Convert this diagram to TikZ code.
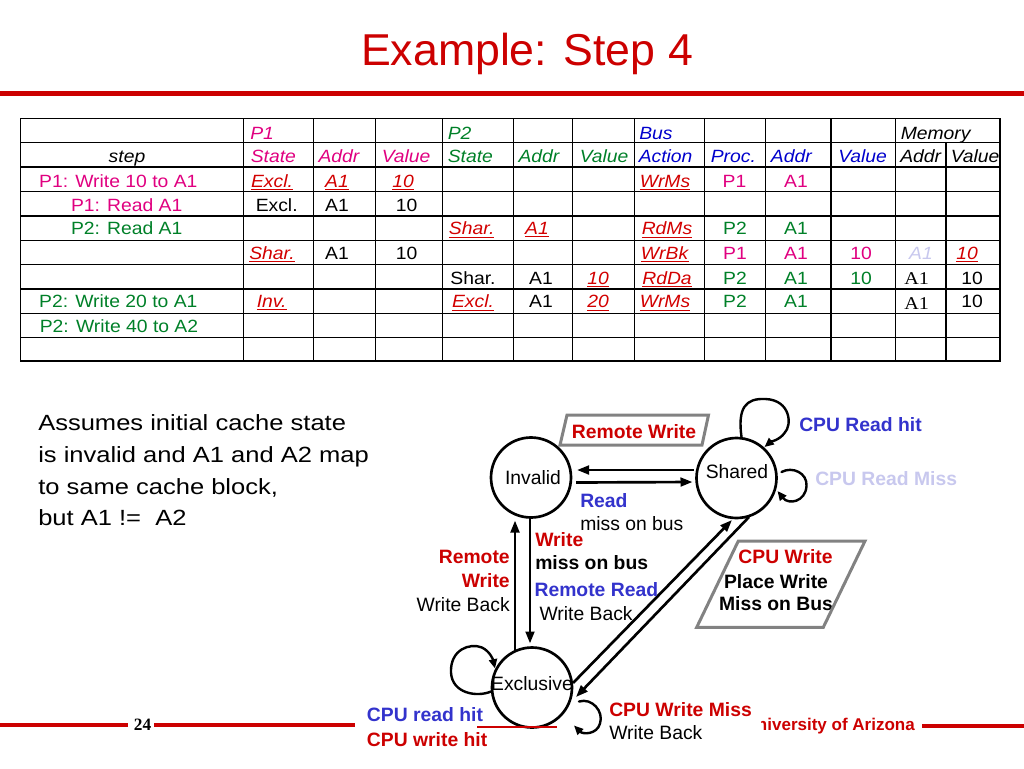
\documentclass[tikz,border=0pt]{standalone}
\usepackage{fontspec}
\setmainfont{Liberation Sans}
\newfontfamily\tabfont[FakeStretch=1.09]{Liberation Sans}
\newfontfamily\leftfont[FakeStretch=1.16]{Liberation Sans}
\newfontfamily\serfont[FakeStretch=1.12]{Liberation Serif}
\newfontfamily\numfont{Liberation Serif}
\usetikzlibrary{arrows.meta,calc}
\definecolor{slred}{RGB}{204,0,0}
\definecolor{pmag}{RGB}{224,0,128}
\definecolor{pgreen}{RGB}{0,128,40}
\definecolor{bblue}{RGB}{0,0,204}
\definecolor{dblue}{RGB}{51,51,204}
\definecolor{lav}{RGB}{200,200,238}
\definecolor{ured}{RGB}{210,0,0}
\definecolor{boxgray}{RGB}{130,130,130}
\newcommand{\uri}[1]{\textcolor{ured}{\underline{\textit{#1}}}}
\begin{document}
\begin{tikzpicture}[x=0.75pt,y=-0.75pt,
  every node/.style={inner sep=0pt},
  tc/.style={font=\tabfont\fontsize{13.3}{15}\selectfont, text height=9.5pt, text depth=0pt},
  tw/.style={tc, anchor=west},
  lb/.style={font=\fontsize{14.5}{17}\selectfont, text height=10.4pt, text depth=0pt},
  lbb/.style={font=\fontsize{14.5}{17}\selectfont\bfseries, text height=10.4pt, text depth=0pt},
  lt/.style={font=\leftfont\fontsize{16.5}{20}\selectfont, anchor=base west},
  stc/.style={circle, draw, line width=2pt, minimum size=60pt},
  arr/.style={line width=2pt, -{Triangle[length=9pt,width=6.5pt]}},
  lp/.style={line width=1.8pt, -{Triangle[length=7pt,width=6pt]}, line join=round, line cap=round},
  gbox/.style={draw=boxgray, line width=2.25pt, line join=miter},
  gridline/.style={line width=0.8pt},
  redrule/.style={draw=slred, line width=3.2pt},
]
\useasboundingbox (0,0) rectangle (1024,768);

% ---------- title ----------
\node[font=\fontsize{33.5}{40}\selectfont, text=slred, anchor=base] (title) at (527,65) {Example: Step 4};
\draw[redrule, line width=3.75pt] (0,93.3) -- (1024,93.3);

% ---------- table grid ----------
\foreach \yy in {142.5,167,191.5,216,240.3,264.5,289,313.3,337.7}
  \draw[gridline] (20.7,\yy) -- (1000,\yy);
\foreach \xx in {243.3,313.3,375.7,442.3,513.3,572.7,634.3,704.7,765.7,831,895.7}
  \draw[gridline] (\xx,118.3) -- (\xx,361);
\draw[gridline] (946,142.5) -- (946,361);
\draw[line width=1.1pt] (20.7,118.3) rectangle (1000,361);

% ---------- table text ----------
% row 1
\node[tw,text=pmag] (hP1) at (250,133) {\itshape P1};
\node[tw,text=pgreen] (hP2) at (447.5,133) {\itshape P2};
\node[tw,text=bblue] (hBus) at (639,133) {\itshape Bus};
\node[tw] (hMem) at (900.5,133) {\itshape Memory};
% row 2
\node[tc] (hstep) at (127,156.5) {\itshape step};
\node[tw,text=pmag] (h21) at (250.5,156.5) {\itshape State};
\node[tw,text=pmag] (h22) at (318.3,156.5) {\itshape Addr};
\node[tw,text=pmag] (h23) at (381.5,156.5) {\itshape Value};
\node[tw,text=pgreen] (h24) at (447.5,156.5) {\itshape State};
\node[tw,text=pgreen] (h25) at (518.3,156.5) {\itshape Addr};
\node[tw,text=pgreen] (h26) at (579.5,156.5) {\itshape Value};
\node[tw,text=bblue] (h27) at (638.5,156.5) {\itshape Action};
\node[tw,text=bblue] (h28) at (710.5,156.5) {\itshape Proc.};
\node[tw,text=bblue] (h29) at (770.7,156.5) {\itshape Addr};
\node[tw,text=bblue] (h210) at (838,156.5) {\itshape Value};
\node[tw] (h211) at (900,156.5) {\itshape Addr};
\node[tw] (h212) at (950.5,156.5) {\itshape Value};
% row 3
\node[tc,text=pmag] (s3) at (118.3,181) {P1: Write 10 to A1};
\node[tc] (a3) at (272,181) {\uri{Excl.}};
\node[tc] (b3) at (337,181) {\uri{A1}};
\node[tc] (c3) at (403,181) {\uri{10}};
\node[tc] (g3) at (665,181) {\uri{WrMs}};
\node[tc,text=pmag] (h3) at (734.5,181) {P1};
\node[tc,text=pmag] (i3) at (796,181) {A1};
% row 4
\node[tc,text=pmag] (s4) at (126.7,205) {P1: Read A1};
\node[tc] (a4) at (276.7,205) {Excl.};
\node[tc] (b4) at (337,205) {A1};
\node[tc] (c4) at (406.7,205) {10};
% row 5
\node[tc,text=pgreen] (s5) at (126.7,228.5) {P2: Read A1};
\node[tc] (d5) at (471.7,228.5) {\uri{Shar.}};
\node[tc] (e5) at (537,228.5) {\uri{A1}};
\node[tc] (g5) at (667,228.5) {\uri{RdMs}};
\node[tc,text=pgreen] (h5) at (735,228.5) {P2};
\node[tc,text=pgreen] (i5) at (796,228.5) {A1};
% row 6
\node[tc] (a6) at (272,253) {\uri{Shar.}};
\node[tc] (b6) at (337,253) {A1};
\node[tc] (c6) at (406.7,253) {10};
\node[tc] (g6) at (665,253) {\uri{WrBk}};
\node[tc,text=pmag] (h6) at (735,253) {P1};
\node[tc,text=pmag] (i6) at (796,253) {A1};
\node[tc,text=pmag] (j6) at (861,253) {10};
\node[tc,text=lav] (k6) at (921,253) {\itshape A1};
\node[tc] (l6) at (967,253) {\uri{10}};
% row 7
\node[tc] (d7) at (473,278) {Shar.};
\node[tc] (e7) at (541,278) {A1};
\node[tc] (f7) at (598,278) {\uri{10}};
\node[tc] (g7) at (667,278) {\uri{RdDa}};
\node[tc,text=pgreen] (h7) at (735,278) {P2};
\node[tc,text=pgreen] (i7) at (796,278) {A1};
\node[tc,text=pgreen] (j7) at (861,278) {10};
\node[tc,font=\serfont\fontsize{13.5}{15}\selectfont] (k7) at (916.7,278.5) {A1};
\node[tc] (l7) at (972,278) {10};
% row 8
\node[tc,text=pgreen] (s8) at (118.3,301.5) {P2: Write 20 to A1};
\node[tc] (a8) at (271.7,301.5) {\uri{Inv.}};
\node[tc] (d8) at (473,301.5) {\uri{Excl.}};
\node[tc] (e8) at (541,301.5) {A1};
\node[tc] (f8) at (598,301.5) {\uri{20}};
\node[tc] (g8) at (665,301.5) {\uri{WrMs}};
\node[tc,text=pgreen] (h8) at (735,301.5) {P2};
\node[tc,text=pgreen] (i8) at (796,301.5) {A1};
\node[tc,font=\serfont\fontsize{13.5}{15}\selectfont] (k8) at (916.7,303.5) {A1};
\node[tc] (l8) at (972,301.5) {10};
% row 9
\node[tc,text=pgreen] (s9) at (119,326.5) {P2: Write 40 to A2};

% ---------- left text ----------
\node[lt] (t1) at (38,430) {Assumes initial cache state};
\node[lt] (t2) at (38,462.5) {is invalid and A1 and A2 map};
\node[lt] (t3) at (38,494) {to same cache block,};
\node[lt] (t4) at (38,525.5) {but A1 !=\ \ A2};

% ---------- state diagram ----------
\node[stc] (inv) at (531,477.5) {};
\node[stc] (sh) at (736.5,478) {};
\node[stc] (ex) at (532,687.5) {};
\node[lb] (invT) at (533,478) {Invalid};
\node[lb] (shT) at (737,471.5) {Shared};
\node[lb] (exT) at (532,684) {Exclusive};

\draw[arr] ($(sh.center)+(-43,-8)$) -- ($(inv.center)+(46,-7.5)$);
\draw[arr] ($(inv.center)+(45,5)$) -- ($(sh.center)+(-44,4)$);
\draw[arr] ($(ex.center)+(-17,-37)$) -- ($(inv.center)+(-16,43)$);
\draw[arr] ($(inv.center)+(-1,41)$) -- ($(ex.center)+(-2,-44)$);
\draw[arr] ($(ex.center)+(41,-4.5)$) -- ($(sh.center)+(-4.5,42)$);
\draw[arr] ($(sh.center)+(12.5,39)$) -- ($(ex.center)+(44,9.5)$);

% self loops
\draw[lp, shift={(sh.center)}] (5,-41) .. controls (1,-70) and (9,-80) .. (29,-79)
  .. controls (54,-78) and (56,-53) .. (48,-45) .. controls (43,-38) and (34,-36) .. (28,-31);
\draw[lp, shift={(sh.center)}] (45,-6) .. controls (56,-12) and (71,-5) .. (70,8)
  .. controls (69,24) and (52,27) .. (41,13);
\draw[lp, shift={(ex.center)}] (-41,4) .. controls (-55,10) and (-80,6) .. (-81,-15)
  .. controls (-82,-38) and (-62,-45) .. (-50,-40) .. controls (-42,-36) and (-39,-28) .. (-37,-19);
\draw[lp, shift={(ex.center)}] (47,14) .. controls (60,10) and (72,24) .. (68,36)
  .. controls (65,47) and (51,47) .. (42,38);

% labels
\node[lbb,text=slred] (rwT) at (634,431.5) {Remote Write};
\draw[gbox] ($(rwT)+(-67,-16.5)$) -- ($(rwT)+(74.5,-16.5)$) -- ($(rwT)+(68,13.5)$) -- ($(rwT)+(-74,13.5)$) -- cycle;

\node[lbb,text=dblue,anchor=west] (rdT) at (580,500.5) {Read};
\node[lb,anchor=west] (rdm) at (580,524) {miss on bus};
\node[lbb,text=slred,anchor=west] (wrT) at (535,539.7) {Write};
\node[lbb,anchor=west] (wrm) at (535,563) {miss on bus};
\node[lbb,text=dblue,anchor=west] (rrT) at (534.3,590) {Remote Read};
\node[lb,anchor=west] (rrwb) at (539.3,613.7) {Write Back};

\node[lbb,text=slred,anchor=east] (lrw1) at (510,556.7) {Remote};
\node[lbb,text=slred,anchor=east] (lrw2) at (510,580.7) {Write};
\node[lb,anchor=east] (lrw3) at (510,604.5) {Write Back};

\node[lbb,text=dblue,anchor=west] (crh) at (799,424.5) {CPU Read hit};
\node[lbb,text=lav,anchor=west] (crm) at (815,478.7) {CPU Read Miss};

\node[lbb,text=slred] (cw1) at (785.5,557) {CPU Write};
\node[lbb] (cw2) at (776,581.7) {Place Write};
\node[lbb] (cw3) at (776,603.3) {Miss on Bus};
\draw[gbox] ($(cw2)+(-37.7,-40.7)$) -- ($(cw2)+(89,-40.7)$) -- ($(cw2)+(47.3,45.6)$) -- ($(cw2)+(-79.3,45.6)$) -- cycle;

\node[lbb,text=dblue,anchor=west] (prh) at (366.7,715) {CPU read hit};
\node[lbb,text=slred,anchor=west] (pwh) at (366.7,739.7) {CPU write hit};
\node[lbb,text=slred,anchor=west] (cwm) at (609,709.7) {CPU Write Miss};
\node[lb,anchor=west] (cwmb) at (609,732.5) {Write Back};

% ---------- footer ----------
\draw[redrule] (0,725.3) -- (128.3,725.3);
\draw[redrule] (154,725.3) -- (355,725.3);
\draw[redrule] (922,726) -- (1024,726);
\draw[draw=slred, line width=1pt] (477,727) -- (557,727);
\node[font=\numfont\bfseries\fontsize{13}{15}\selectfont, text height=8.6pt, text depth=0pt] (pg) at (142.5,724.7) {24};
\begin{scope}
  \clip (761,700) rectangle (921,750);
  \node[font=\fontsize{12.75}{15}\selectfont\bfseries, text=slred, anchor=base east] (uoa) at (915,730) {University of Arizona};
\end{scope}
\end{tikzpicture}
\end{document}
